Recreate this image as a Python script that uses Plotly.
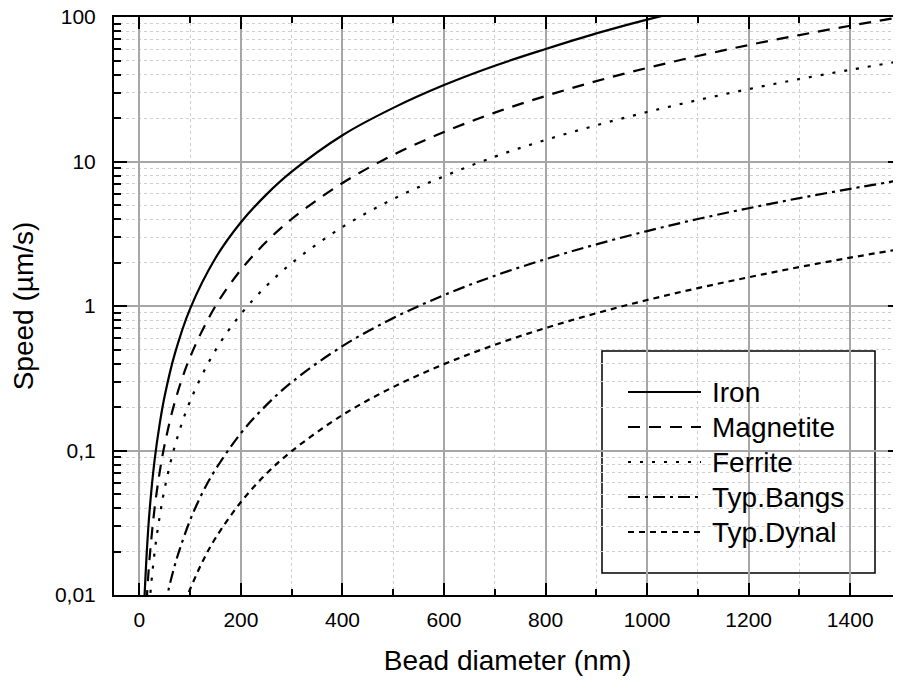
import plotly.graph_objects as go

# Bead diameter (nm) sample points and speeds (um/s)
iron_d = [10, 15, 20, 30, 40, 50, 70, 100, 150, 200, 250, 300, 400, 500, 600, 700, 800, 900, 1000, 1100]
iron_v = [0.0095, 0.021, 0.038, 0.086, 0.153, 0.24, 0.47, 0.96, 2.15, 3.8, 5.9, 8.5, 15.2, 23.5, 33.8, 46, 60, 77, 96, 116]

mag_d = [12, 15, 20, 30, 40, 50, 70, 100, 150, 200, 250, 300, 400, 500, 600, 700, 800, 900, 1000, 1100, 1200, 1300, 1400, 1500]
mag_v = [0.0064, 0.010, 0.0178, 0.040, 0.071, 0.111, 0.218, 0.444, 1.0, 1.78, 2.78, 4.0, 7.1, 11.1, 16.0, 21.8, 28.4, 36.0, 44.4, 53.7, 64.0, 75.0, 87.0, 100.0]

fer_d = [18, 21, 30, 40, 50, 70, 100, 150, 200, 250, 300, 400, 500, 600, 700, 800, 900, 1000, 1100, 1200, 1300, 1400, 1500]
fer_v = [0.0071, 0.0097, 0.0198, 0.035, 0.055, 0.108, 0.22, 0.495, 0.88, 1.375, 1.98, 3.52, 5.5, 7.9, 10.8, 14.1, 17.8, 22.0, 26.6, 31.7, 37.2, 43.1, 49.5]

bangs_d = [50, 55, 60, 70, 80, 100, 125, 150, 200, 250, 300, 400, 500, 600, 700, 800, 900, 1000, 1100, 1200, 1300, 1400, 1500]
bangs_v = [0.00825, 0.010, 0.0119, 0.0162, 0.021, 0.033, 0.0516, 0.074, 0.132, 0.206, 0.297, 0.528, 0.825, 1.19, 1.62, 2.11, 2.67, 3.3, 4.0, 4.75, 5.58, 6.47, 7.43]

dyn_d = [90, 95, 100, 125, 150, 200, 250, 300, 400, 500, 600, 700, 800, 900, 1000, 1100, 1200, 1300, 1400, 1500]
dyn_v = [0.0089, 0.0099, 0.011, 0.0172, 0.0248, 0.044, 0.069, 0.099, 0.176, 0.275, 0.396, 0.539, 0.704, 0.891, 1.1, 1.33, 1.58, 1.86, 2.16, 2.48]

names = ["Iron", "Magnetite", "Ferrite", "Typ.Bangs", "Typ.Dynal"]
x_ticks = [0, 200, 400, 600, 800, 1000, 1200, 1400]
y_ticks = [0.01, 0.1, 1, 10, 100]
y_tick_text = ["0,01", "0,1", "1", "10", "100"]

series = [(iron_d, iron_v), (mag_d, mag_v), (fer_d, fer_v), (bangs_d, bangs_v), (dyn_d, dyn_v)]
dashes = ["solid", "12px,9px", "3px,9px", "12px,5px,3px,5px", "6px,5px"]

FONT = "Liberation Sans, Arial, Helvetica, sans-serif"
OFF = 8  # default page body margin
W, H = 901 - OFF, 681 - OFF
# target plot box on screen: left 114, right 901, top 17, bottom 595
ML, MR, MT, MB = 114 - OFF, 0, 17 - OFF, (681 - OFF) - (595 - OFF)

fig = go.Figure()
for (d, v), nm, ds in zip(series, names, dashes):
    fig.add_trace(go.Scatter(x=d, y=v, mode="lines", name=nm, line_shape="spline",
                             showlegend=False,
                             line=dict(color="black", width=2.2, dash=ds)))

minor_y = [m * 10 ** e for e in range(-2, 2) for m in range(2, 10)]
minor_x = list(range(100, 1500, 200))

axis_common = dict(showline=True, linewidth=2, linecolor="black", mirror="ticks",
                   ticks="inside", tickwidth=2, tickcolor="black", automargin=False,
                   ticklabeloverflow="allow",
                   showgrid=True, gridcolor="#a6a6a6", gridwidth=1.5, zeroline=False,
                   tickfont=dict(family=FONT, size=21, color="black"))

fig.update_xaxes(range=[-50, 1500], tickmode="array", tickvals=x_ticks, ticklen=12,
                 ticklabelstandoff=5,
                 minor=dict(tickmode="array", tickvals=minor_x, ticks="inside", ticklen=6,
                            tickwidth=1.5, tickcolor="black", showgrid=True,
                            gridcolor="#cfcfcf", gridwidth=1, griddash="dot"),
                 title=dict(text="Bead diameter (nm)", font=dict(family=FONT, size=28, color="black"),
                            standoff=20),
                 **axis_common)
fig.update_yaxes(type="log", range=[-2, 2], tickmode="array", tickvals=y_ticks, ticktext=y_tick_text,
                 ticklen=13, ticklabelstandoff=12,
                 minor=dict(tickmode="array", tickvals=minor_y, ticks="inside", ticklen=7,
                            tickwidth=1.5, tickcolor="black", showgrid=True,
                            gridcolor="#cfcfcf", gridwidth=1, griddash="dot"),
                 title=dict(text="Speed (µm/s)", font=dict(family=FONT, size=28, color="black"),
                            standoff=16),
                 **axis_common)

pw = W - ML - MR
ph = H - MT - MB
def px(xs):
    return (xs - OFF - ML) / pw
def py(ys):
    return (H - MB - (ys - OFF)) / ph

# legend frame
fig.add_shape(type="rect", xref="paper", yref="paper", x0=px(602), x1=px(875), y0=py(573), y1=py(351),
              line=dict(color="black", width=1.5), fillcolor="white", layer="between")

# legend entries (sample line + label)
row_y = [392, 427, 462, 497, 532]
for nm, ds, ry in zip(names, dashes, row_y):
    fig.add_shape(type="line", xref="paper", yref="paper", x0=px(628), x1=px(701), y0=py(ry), y1=py(ry),
                  line=dict(color="black", width=2.2, dash=ds), layer="above")
    fig.add_annotation(xref="paper", yref="paper", x=px(710), y=py(ry), text=nm, showarrow=False,
                       xanchor="left", yanchor="middle",
                       font=dict(family=FONT, size=28, color="black"))

fig.update_layout(
    width=W, height=H, margin=dict(l=ML, r=MR, t=MT, b=MB),
    paper_bgcolor="white", plot_bgcolor="white",
    showlegend=False,
)

fig.write_html("out.html")
